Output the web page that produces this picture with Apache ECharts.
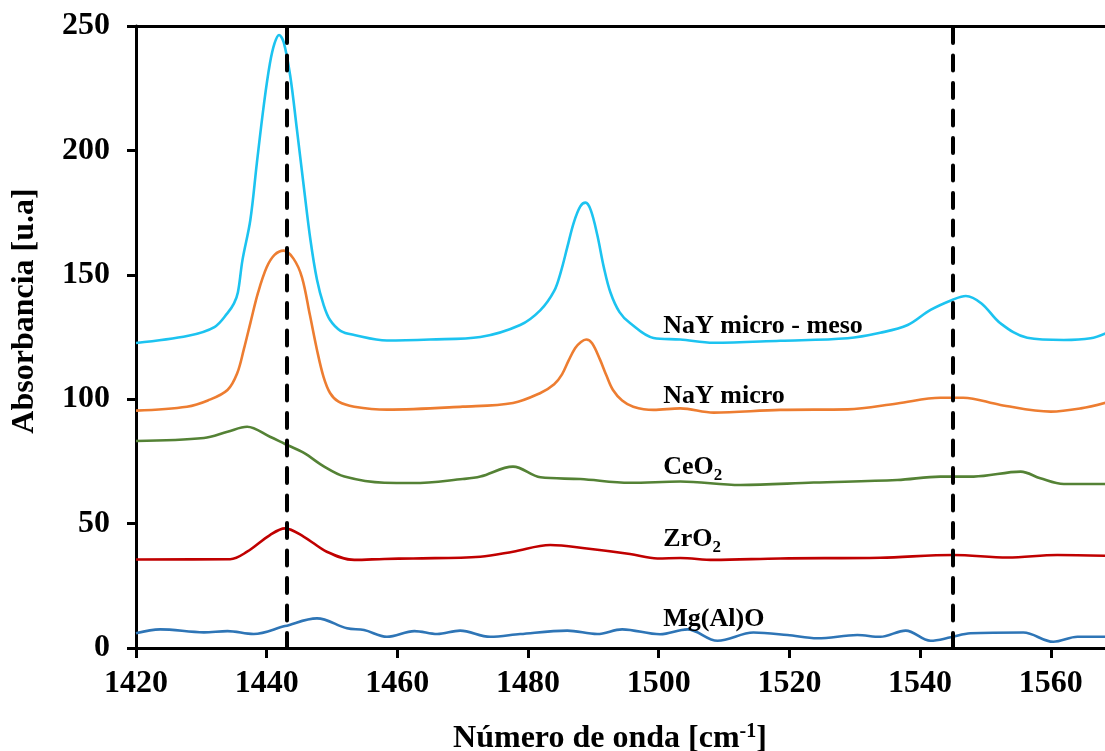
<!DOCTYPE html>
<html lang="es">
<head>
<meta charset="UTF-8" />
<title>Absorbancia</title>
<script src="https://cdn.jsdelivr.net/npm/echarts@6/dist/echarts.min.js"></script>
<style>
  body{margin:0;padding:0;background:#fff;}
  #chart{width:1105px;height:751px;}
</style>
</head>
<body>
<div id="chart"></div>
<script>
// datos
var dashedLines = [1443, 1545];

var mesoX = [1420, 1428, 1432, 1434, 1435, 1435.6, 1436.3, 1437.5, 1438.5, 1439.6, 1440.5, 1441.2, 1441.9, 1442.6, 1443.6, 1444.6, 1445.7, 1446.7, 1447.7, 1448.7, 1449.7, 1451.3, 1453.4, 1458.4, 1465, 1472.7, 1478.8, 1481.9, 1484, 1485, 1486, 1487, 1488, 1488.8, 1489.6, 1490.6, 1491.6, 1492.6, 1494, 1495.6, 1499.2, 1503.3, 1508.4, 1518.6, 1528.9, 1533.9, 1538.1, 1541.6, 1545.1, 1547, 1549.4, 1552.3, 1556.4, 1562, 1566.1, 1568.4];
var mesoY = [122.6, 125.5, 129, 134.6, 138.5, 143, 156, 172, 195, 219, 235, 243, 246.4, 243.5, 230, 209, 185, 164, 148, 138, 131.8, 127.5, 125.8, 123.6, 124, 125, 129.8, 135.8, 143.5, 151, 161, 171, 177.5, 179, 176, 166, 153, 143, 135, 130.6, 124.6, 124, 122.7, 123.5, 124.5, 126.7, 129.8, 135.9, 140.1, 141.5, 138.5, 130.5, 124.7, 123.8, 124.5, 126.5];

var microX = [1420, 1427.8, 1431, 1434, 1435.5, 1436.5, 1437.5, 1438.7, 1440, 1441.2, 1442.6, 1444.1, 1445.4, 1446.6, 1447.7, 1448.7, 1449.7, 1451, 1453.4, 1458.4, 1470, 1477.7, 1481.9, 1484, 1485.2, 1486.2, 1487.2, 1488.1, 1488.9, 1489.8, 1491, 1492, 1493, 1494.4, 1496.1, 1499.2, 1503.3, 1508.4, 1518.6, 1528.9, 1536.5, 1543.1, 1546.6, 1552.3, 1560, 1564.6, 1568.4];
var microY = [95.4, 97, 99.5, 103.7, 110.5, 120, 130.6, 143, 153, 158, 159.7, 156.5, 149, 134, 119.8, 109, 102.5, 99, 97, 95.8, 97, 98.5, 102.5, 106, 110, 115.5, 120.5, 123, 124, 122.5, 116, 109.5, 103.7, 99.5, 97, 95.7, 96.3, 94.6, 95.7, 95.9, 98.3, 100.6, 100.6, 97.7, 95, 96.3, 98.6];

var ceX = [1420, 1430.4, 1434, 1437, 1440.5, 1442.8, 1445.7, 1448.8, 1451.9, 1458, 1462.4, 1470, 1472.7, 1477.7, 1481.9, 1488, 1495.6, 1503.3, 1512.5, 1523.7, 1536.5, 1543.1, 1548.2, 1555.4, 1558.4, 1562, 1568.4];
var ceY = [83.2, 84.4, 86.9, 88.9, 84.9, 82, 78.4, 72.9, 68.9, 66.4, 66.3, 67.9, 68.9, 72.9, 68.6, 67.9, 66.4, 66.9, 65.5, 66.5, 67.5, 68.9, 68.9, 70.9, 68.2, 65.9, 65.9];

var zrX = [1420, 1434.4, 1437, 1440.5, 1442.8, 1445.7, 1449.2, 1453.4, 1458, 1462.4, 1472.7, 1477.7, 1483.4, 1489, 1495.6, 1499.8, 1503.3, 1508.4, 1518.6, 1533.9, 1545.1, 1553.4, 1561, 1568.4];
var zrY = [35.6, 35.7, 38.7, 45.4, 48.1, 44.7, 38.7, 35.4, 35.8, 36, 36.7, 38.7, 41.4, 40, 37.8, 36, 36.2, 35.4, 36, 36.3, 37.4, 36.4, 37.4, 37.1];

var mgX = [1420, 1423.7, 1430.4, 1434, 1438, 1442.8, 1447.7, 1452.3, 1454.9, 1458.4, 1462.6, 1466.1, 1469.6, 1474.2, 1478.8, 1486, 1490.6, 1494.4, 1500.2, 1504.4, 1509, 1514.5, 1519.7, 1524.3, 1530.4, 1533.9, 1537.8, 1541.6, 1544.7, 1547.7, 1555.8, 1560.4, 1564.1, 1568.4];
var mgY = [5.9, 7.5, 6.3, 6.8, 5.6, 8.8, 11.9, 7.9, 7.2, 4.5, 6.8, 5.6, 7, 4.5, 5.6, 7, 5.6, 7.5, 5.5, 7.5, 2.9, 6.2, 5.2, 3.9, 5.2, 4.5, 7, 2.9, 4.3, 5.9, 6.2, 2.5, 4.5, 4.5];

var seriesNames = ['NaY micro - meso', 'NaY micro', 'CeO2', 'ZrO2', 'Mg(Al)O'];
var seriesColors = ['#1cc3f0', '#ed7d31', '#548235', '#c00000', '#2e75b6'];
// posicion de las etiquetas en unidades de los ejes
var labelX = [1500.7, 1500.7, 1500.7, 1500.7, 1500.7];
var labelY = [129.5, 101, 72.5, 43.5, 11.5];
var labelText = ['NaY micro - meso', 'NaY micro', '{t|CeO}{s|2}', '{t|ZrO}{s|2}', 'Mg(Al)O'];

function zip(xs, ys) {
  return xs.map(function (x, i) { return [x, ys[i]]; });
}

var xs = [mesoX, microX, ceX, zrX, mgX];
var ys = [mesoY, microY, ceY, zrY, mgY];

var font = 'Liberation Serif, Times New Roman, serif';

var series = seriesNames.map(function (name, i) {
  return {
    name: name,
    type: 'line',
    data: zip(xs[i], ys[i]),
    smooth: 0.35,
    showSymbol: false,
    lineStyle: { color: seriesColors[i], width: 2.6 },
    z: 3,
    markPoint: {
      symbol: 'circle',
      symbolSize: 0,
      silent: true,
      data: [{ coord: [labelX[i], labelY[i]] }],
      label: {
        show: true,
        position: 'right',
        distance: 0,
        formatter: labelText[i],
        fontFamily: font,
        fontWeight: 'bold',
        fontSize: 26,
        color: '#000',
        rich: {
          t: { fontFamily: font, fontWeight: 'bold', fontSize: 26, color: '#000' },
          s: { fontFamily: font, fontWeight: 'bold', fontSize: 17, color: '#000', padding: [15, 0, 0, 0] }
        }
      }
    }
  };
});

series[0].markLine = {
  silent: true,
  symbol: 'none',
  label: { show: false },
  lineStyle: { color: '#000', width: 4, type: [15, 12.5], cap: 'round' },
  data: dashedLines.map(function (v) { return { xAxis: v }; }),
  z: 5
};

function plain(v) {
  return v % 20 === 0 ? String(v) : '';
}

var tickStyle = { show: true, inside: false, length: 10, lineStyle: { color: '#000', width: 3, opacity: 1 } };

var chart = echarts.init(document.getElementById('chart'));
var option = {
  animation: false,
  backgroundColor: '#fff',
  grid: { left: 136, top: 26, right: 0, bottom: 103, containLabel: false, outerBoundsMode: 'none' },
  xAxis: [{
    type: 'value',
    min: 1420,
    max: 1568.3,
    interval: 20,
    name: 'Número de onda [cm{sup|-1}]',
    nameLocation: 'middle',
    nameGap: 74,
    nameTextStyle: {
      fontFamily: font, fontWeight: 'bold', fontSize: 32, color: '#000',
      padding: [0, 21, 0, 0],
      rich: { sup: { fontFamily: font, fontWeight: 'bold', fontSize: 20, color: '#000', verticalAlign: 'top', padding: [0, 0, 14, 0] } }
    },
    axisLine: { show: true, onZero: false, lineStyle: { color: '#000', width: 3 } },
    axisTick: tickStyle,
    axisLabel: { margin: 20, showMaxLabel: false, formatter: plain, fontFamily: font, fontWeight: 'bold', fontSize: 32, color: '#000' },
    splitLine: { show: false }
  }, {
    type: 'value',
    position: 'top',
    min: 1420,
    max: 1568.3,
    axisLine: { show: true, onZero: false, lineStyle: { color: '#000', width: 3 } },
    axisTick: { show: false },
    axisLabel: { show: false },
    splitLine: { show: false }
  }],
  yAxis: {
    type: 'value',
    min: 0,
    max: 250,
    interval: 50,
    axisLine: { show: true, onZero: false, lineStyle: { color: '#000', width: 3 } },
    axisTick: { show: true, inside: false, length: 9, lineStyle: { color: '#000', width: 3, opacity: 1 } },
    axisLabel: { margin: 26, fontFamily: font, fontWeight: 'bold', fontSize: 32, color: '#000' },
    splitLine: { show: false }
  },
  graphic: [{
    type: 'text',
    x: 25,
    y: 311,
    rotation: Math.PI / 2,
    style: {
      text: 'Absorbancia [u.a]',
      fontFamily: font,
      fontWeight: 'bold',
      fontSize: 32,
      fill: '#000',
      align: 'center',
      verticalAlign: 'middle'
    }
  }],
  series: series
};
chart.setOption(option);
</script>
</body>
</html>
